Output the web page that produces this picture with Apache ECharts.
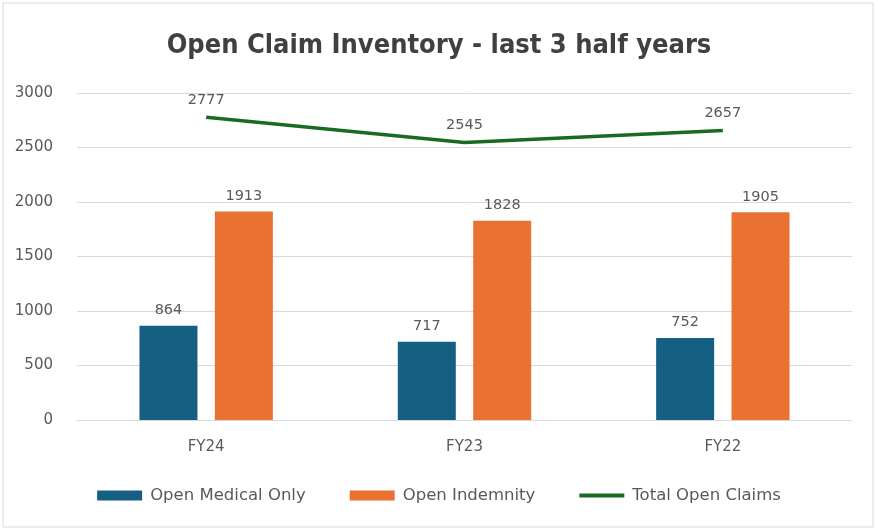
<!DOCTYPE html>
<html>
<head>
<meta charset="utf-8">
<script src="https://cdn.jsdelivr.net/npm/echarts@6/dist/echarts.min.js"></script>
<style>
  html, body { margin: 0; padding: 0; background: #fff; }
  #chart { width: 878px; height: 531px; }
</style>
</head>
<body>
<div id="chart"></div>
<script>
// data
var categories = ['FY24', 'FY23', 'FY22']
var medicalOnly = [864, 717, 752]
var indemnity = [1913, 1828, 1905]
var totalOpen = [2777, 2545, 2657]

var chart = echarts.init(document.getElementById('chart'))

var labelStyle = {
  show: true,
  position: 'top',
  distance: 8,
  color: '#595959',
  fontSize: 14.5,
  fontFamily: 'DejaVu Sans'
}

chart.setOption({
  backgroundColor: '#FFFFFF',
  animation: false,
  title: {
    text: 'Open Claim Inventory - last 3 half years',
    left: 'center',
    top: 27,
    textStyle: {
      fontFamily: 'DejaVu Sans Condensed',
      fontWeight: 'bold',
      fontSize: 27,
      color: '#404040'
    }
  },
  graphic: [{
    type: 'rect',
    shape: { x: 3, y: 3, width: 870, height: 524 },
    style: { fill: 'none', stroke: '#d9d9d9', lineWidth: 1 },
    silent: true
  }],
  legend: {
    bottom: 22,
    left: 'center',
    itemGap: 44,
    itemWidth: 45,
    itemHeight: 10,
    textStyle: { color: '#595959', fontSize: 16.5, fontFamily: 'DejaVu Sans', padding: [0, 0, 0, 3] },
    data: [
      { name: 'Open Medical Only', icon: 'rect' },
      { name: 'Open Indemnity', icon: 'rect' },
      { name: 'Total Open Claims', icon: 'path://M0,0 L45,0 L45,4 L0,4 Z' }
    ]
  },
  grid: {
    left: 77,
    right: 26,
    top: 93,
    bottom: 111
  },
  xAxis: {
    type: 'category',
    data: categories,
    axisLine: { lineStyle: { color: '#d9d9d9' } },
    axisTick: { show: false },
    axisLabel: { color: '#595959', fontSize: 15, margin: 20, fontFamily: 'DejaVu Sans' }
  },
  yAxis: {
    type: 'value',
    min: 0,
    max: 3000,
    interval: 500,
    axisLine: { show: false },
    axisTick: { show: false },
    axisLabel: {
      color: '#595959',
      fontSize: 15,
      margin: 24,
      fontFamily: 'DejaVu Sans',
      formatter: function (v) { return String(v) }
    },
    splitLine: { lineStyle: { color: '#d9d9d9' } }
  },
  series: [
    {
      name: 'Open Medical Only',
      type: 'bar',
      data: medicalOnly,
      barWidth: 58,
      barGap: '30%',
      itemStyle: { color: '#156082' },
      label: labelStyle
    },
    {
      name: 'Open Indemnity',
      type: 'bar',
      data: indemnity,
      barWidth: 58,
      itemStyle: { color: '#E97132' },
      label: labelStyle
    },
    {
      name: 'Total Open Claims',
      type: 'line',
      data: totalOpen,
      symbol: 'circle',
      symbolSize: 0,
      showSymbol: true,
      lineStyle: { color: '#196B24', width: 3.5 },
      itemStyle: { color: '#196B24' },
      label: Object.assign({}, labelStyle, { distance: 10 })
    }
  ]
})
</script>
</body>
</html>
